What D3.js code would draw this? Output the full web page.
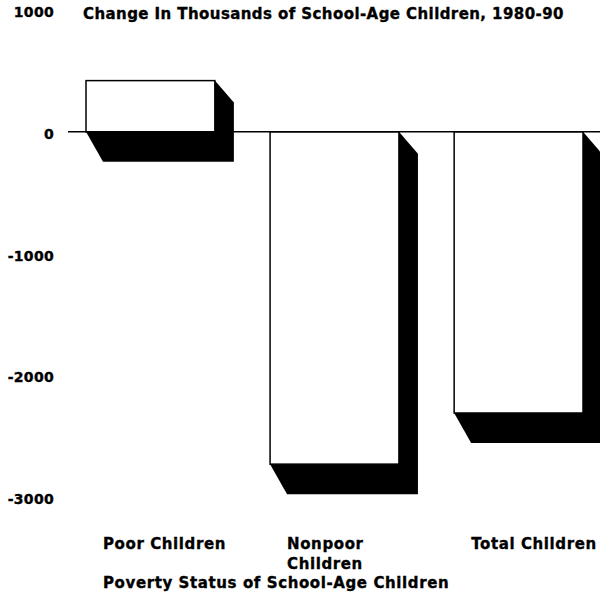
<!DOCTYPE html>
<html>
<head>
<meta charset="utf-8">
<script src="https://cdn.jsdelivr.net/npm/d3@7"></script>
<style>
    body { margin: 0; background: #fff; }
    text { font-family: "DejaVu Sans", sans-serif; font-weight: bold; fill: #000; stroke: #000; stroke-width: 0.35px; }
</style>
</head>
<body>
<svg id="chart"></svg>
<script>
const categories = ["Poor Children", "Nonpoor Children", "Total Children"];
const categoryLines = [["Poor Children"], ["Nonpoor", "Children"], ["Total Children"]];
const changes = [420, -2730, -2310];
const tickValues = [1000, 0, -1000, -2000, -3000];

const title = "Change In Thousands of School-Age Children, 1980-90";
const xTitle = "Poverty Status of School-Age Children";

const width = 600;
const height = 604;
// depth of the black extrusion behind each bar
const depth = {dx: 19, dyTop: 22, dy: 30, dxBottom: 17};

const svg = d3.select("#chart")
    .attr("width", width)
    .attr("height", height);

const x = d3.scaleBand()
    .domain(categories)
    .range([86, 583])
    .paddingInner(0.3)
    .paddingOuter(0);
const y = d3.scaleLinear()
    .domain([-3000, 1000])
    .range([497, 10]);

const data = categories.map(function (c, i) {
    return {label: c, value: changes[i], lines: categoryLines[i]};
});

// Shadows
svg.selectAll("path.shadow")
    .data(data)
    .enter()
    .append("path")
    .attr("class", "shadow")
    .attr("d", function (d) {
        const x0 = x(d.label);
        const x1 = x0 + x.bandwidth();
        const top = Math.min(y(0), y(d.value));
        const bottom = Math.max(y(0), y(d.value));
        return `M${x1},${top}L${x1 + depth.dx},${top + depth.dyTop}` +
            `L${x1 + depth.dx},${bottom + depth.dy}L${x0 + depth.dxBottom},${bottom + depth.dy}` +
            `L${x0},${bottom}Z`;
    })
    .style("fill", "#000");

// Front faces
svg.selectAll("rect.bar")
    .data(data)
    .enter()
    .append("rect")
    .attr("class", "bar")
    .attr("x", function (d) {
        return x(d.label);
    })
    .attr("y", function (d) {
        return Math.min(y(0), y(d.value));
    })
    .attr("width", x.bandwidth())
    .attr("height", function (d) {
        return Math.abs(y(d.value) - y(0));
    })
    .style("fill", "#fff")
    .style("stroke", "#000")
    .style("stroke-width", 1.5);

// Zero line
svg.append("line")
    .attr("x1", 68)
    .attr("x2", width)
    .attr("y1", y(0))
    .attr("y2", y(0))
    .style("stroke", "#000")
    .style("stroke-width", 1.5);

// Y tick labels
svg.selectAll("text.tick")
    .data(tickValues)
    .enter()
    .append("text")
    .attr("class", "tick")
    .attr("x", 54)
    .attr("y", function (d) {
        return y(d);
    })
    .attr("dy", "0.5em")
    .style("font-size", "14px")
    .style("letter-spacing", "0.3px")
    .style("text-anchor", "end")
    .text(function (d) {
        return d;
    });

// Title
svg.append("text")
    .attr("x", 83)
    .attr("y", 19)
    .style("font-size", "15px")
    .style("letter-spacing", "0.42px")
    .text(title);

// Category labels
const labels = svg.selectAll("text.cat")
    .data(data)
    .enter()
    .append("text")
    .attr("class", "cat")
    .attr("x", function (d) {
        return x(d.label) + depth.dxBottom;
    })
    .attr("y", 549)
    .style("font-size", "15px")
    .style("letter-spacing", "0.6px");
labels.selectAll("tspan")
    .data(function (d) {
        return d.lines.map(function (l) {
            return {line: l, x: x(d.label) + depth.dxBottom};
        });
    })
    .enter()
    .append("tspan")
    .attr("x", function (d) {
        return d.x;
    })
    .attr("dy", function (d, i) {
        return i === 0 ? 0 : 20;
    })
    .text(function (d) {
        return d.line;
    });

// X axis title
svg.append("text")
    .attr("x", 103)
    .attr("y", 588)
    .style("font-size", "15px")
    .style("letter-spacing", "0.6px")
    .text(xTitle);
</script>
</body>
</html>
